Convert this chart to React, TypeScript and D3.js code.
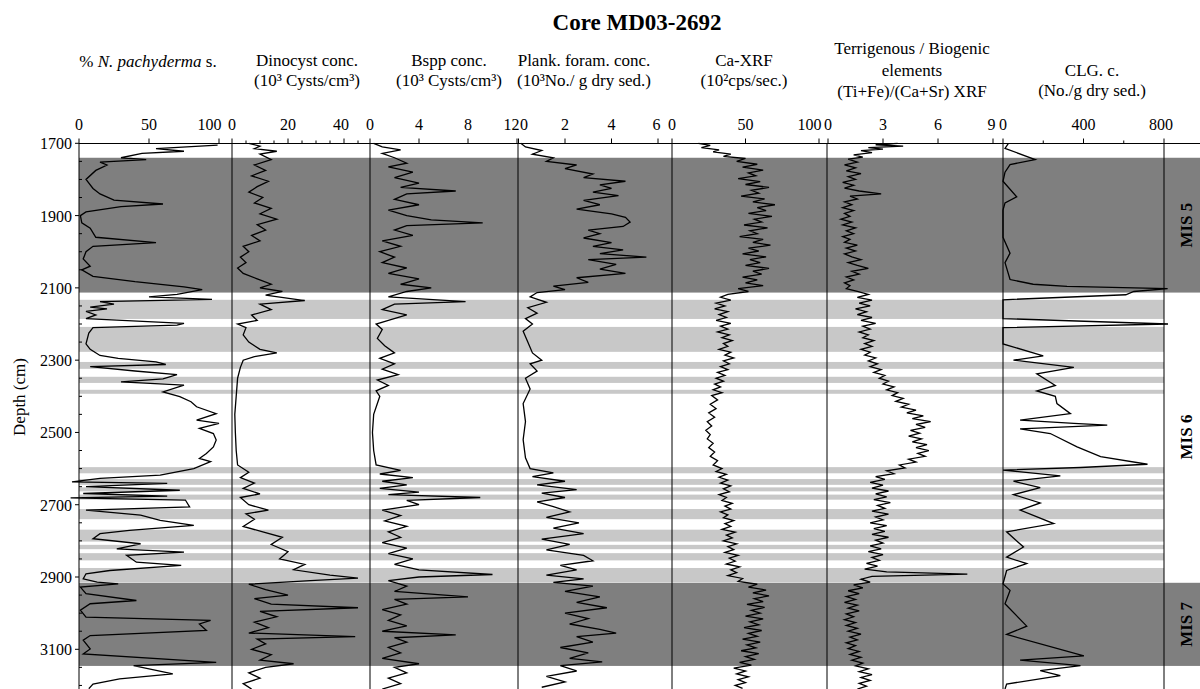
import React, { useEffect, useRef } from "react";
import * as d3 from "d3";

// depth (cm), value
const pachyderma: [number, number][] = [
  [1705, 99], [1715, 55], [1722, 75], [1728, 45], [1740, 30], [1745, 48], [1752, 15], [1760, 20],
  [1775, 12], [1800, 5], [1825, 10], [1840, 15], [1857, 25], [1868, 60], [1875, 30], [1890, 5],
  [1900, 1], [1920, 2], [1935, 8], [1960, 12], [1975, 55], [1985, 10], [2000, 5], [2020, 3],
  [2040, 8], [2050, 2], [2068, 10], [2083, 40], [2097, 75], [2105, 88], [2118, 70], [2125, 50],
  [2132, 95], [2138, 15], [2145, 25], [2153, 8], [2158, 20], [2165, 5], [2175, 12], [2185, 5],
  [2198, 75], [2203, 70], [2210, 10], [2225, 7], [2255, 5], [2270, 8], [2287, 15], [2295, 28],
  [2305, 55], [2312, 62], [2318, 8], [2330, 40], [2340, 70], [2352, 60], [2360, 30], [2369, 75],
  [2388, 60], [2401, 72], [2415, 80], [2429, 84], [2448, 98], [2466, 84], [2475, 100], [2489, 86],
  [2503, 96], [2521, 98], [2540, 96], [2558, 91], [2572, 86], [2581, 94], [2600, 82], [2618, 58],
  [2627, 15], [2637, -5], [2641, 63], [2650, 5], [2660, 72], [2669, 3], [2676, 63], [2681, -6],
  [2687, 76], [2706, 79], [2715, 5], [2729, 44], [2743, 58], [2757, 82], [2771, 36], [2780, 15],
  [2794, 10], [2808, 44], [2822, 27], [2831, 75], [2840, 34], [2859, 41], [2868, 73], [2882, 22],
  [2891, 5], [2905, 3], [2914, 13], [2919, 28], [2928, 1], [2946, 5], [2965, 41], [2974, 8],
  [2992, 1], [3011, 5], [3020, 94], [3030, 86], [3048, 91], [3062, 8], [3075, 3], [3099, 8],
  [3113, 3], [3136, 98], [3145, 39], [3168, 67], [3182, 29], [3196, 10], [3209, 7],
];

const dinocyst: [number, number][] = [
  [1700, 6], [1708, 10], [1715, 8], [1722, 16], [1730, 10], [1745, 14], [1760, 8], [1775, 12],
  [1790, 7], [1805, 13], [1820, 9], [1835, 6], [1850, 11], [1865, 8], [1880, 14], [1895, 10],
  [1910, 16], [1925, 9], [1940, 12], [1955, 7], [1970, 10], [1985, 4], [2000, 6], [2015, 3],
  [2030, 5], [2045, 2], [2060, 4], [2075, 9], [2090, 14], [2100, 10], [2110, 18], [2120, 12],
  [2135, 26], [2145, 10], [2160, 14], [2175, 7], [2190, 9], [2200, 2], [2210, 5], [2230, 4],
  [2250, 6], [2270, 10], [2280, 16], [2290, 8], [2300, 4], [2320, 3], [2350, 2], [2400, 1.5],
  [2450, 1], [2500, 1.2], [2550, 1.5], [2590, 2], [2610, 6], [2625, 3], [2640, 8], [2655, 4],
  [2670, 10], [2680, 3], [2700, 6], [2715, 13], [2725, 5], [2740, 8], [2760, 4], [2775, 11],
  [2790, 18], [2810, 14], [2830, 20], [2850, 17], [2865, 26], [2880, 22], [2895, 35], [2903, 45],
  [2910, 28], [2920, 6], [2935, 12], [2950, 20], [2960, 8], [2975, 14], [2985, 45], [2995, 10],
  [3010, 16], [3025, 8], [3040, 13], [3055, 6], [3065, 44], [3072, 9], [3085, 12], [3100, 7],
  [3115, 14], [3130, 10], [3140, 22], [3150, 12], [3165, 6], [3180, 10], [3195, 4], [3210, 7],
];

const bspp: [number, number][] = [
  [1700, 0.3], [1710, 1], [1718, 2.5], [1728, 1], [1740, 2], [1755, 3], [1765, 1.5], [1780, 3.5],
  [1795, 2], [1810, 4], [1822, 2.5], [1832, 7], [1840, 3], [1855, 2], [1870, 4], [1885, 1.5],
  [1900, 3], [1912, 5], [1920, 9.2], [1928, 3], [1940, 2], [1955, 3.5], [1970, 1], [1985, 2.5],
  [2000, 0.8], [2015, 2], [2030, 1], [2045, 3], [2060, 1.5], [2075, 4], [2090, 2.5], [2100, 5],
  [2110, 3], [2125, 1.5], [2138, 7.8], [2145, 2], [2160, 1], [2175, 3], [2190, 1.5], [2200, 0.5],
  [2215, 1], [2240, 0.6], [2260, 1.2], [2280, 2], [2295, 0.8], [2310, 2], [2325, 1], [2340, 2.3],
  [2355, 0.6], [2370, 1.5], [2385, 0.5], [2400, 0.8], [2450, 0.3], [2500, 0.2], [2550, 0.3],
  [2590, 0.5], [2605, 2.5], [2615, 0.8], [2625, 3.5], [2635, 1], [2645, 3], [2655, 0.8],
  [2665, 4], [2672, 1.5], [2680, 9], [2688, 3], [2700, 4], [2715, 1], [2730, 2.5], [2745, 1.2],
  [2760, 3], [2775, 1.5], [2790, 2.5], [2805, 1], [2820, 3], [2835, 1.5], [2850, 3.5], [2865, 2],
  [2880, 4], [2893, 10], [2900, 4], [2910, 1.5], [2925, 3], [2940, 2], [2955, 8], [2962, 2],
  [2975, 3], [2990, 1], [3005, 2.5], [3020, 1.5], [3035, 3], [3050, 1], [3060, 7], [3068, 2],
  [3080, 3], [3095, 1.5], [3110, 2.5], [3125, 1], [3140, 4], [3150, 2], [3165, 3], [3180, 1.5],
  [3195, 2.5], [3210, 1],
];

const plankForam: [number, number][] = [
  [1700, 0.1], [1710, 0.3], [1720, 1], [1730, 0.6], [1740, 1.5], [1750, 1.2], [1760, 2.5],
  [1770, 2], [1785, 3.2], [1795, 2.8], [1805, 4.6], [1815, 3.5], [1825, 4], [1835, 3.2],
  [1845, 4.3], [1858, 2.8], [1870, 3.5], [1882, 2.5], [1895, 4], [1905, 4.6], [1918, 4.8],
  [1930, 4.5], [1940, 3], [1950, 3.5], [1962, 2.8], [1975, 4], [1985, 3.2], [1995, 4.5],
  [2005, 3.5], [2015, 5.5], [2022, 3], [2035, 4.2], [2048, 3.5], [2060, 4.6], [2072, 2.5],
  [2085, 3], [2095, 1.5], [2105, 2], [2113, 0.8], [2125, 0.5], [2140, 1.2], [2155, 0.4],
  [2170, 0.8], [2185, 0.3], [2200, 0.6], [2220, 0.2], [2250, 0.4], [2280, 0.6], [2300, 1],
  [2310, 0.5], [2330, 0.8], [2350, 0.3], [2380, 0.5], [2420, 0.2], [2470, 0.3], [2520, 0.2],
  [2570, 0.3], [2600, 0.5], [2612, 1.5], [2622, 0.6], [2635, 2], [2645, 0.8], [2658, 2.5],
  [2668, 1], [2680, 2], [2692, 0.8], [2705, 1.5], [2720, 2.2], [2735, 1.2], [2750, 2.6],
  [2765, 1.5], [2780, 2.8], [2795, 1], [2810, 2.2], [2825, 1.2], [2840, 2.8], [2855, 3.2],
  [2868, 1.8], [2880, 2.5], [2895, 1.2], [2905, 2.8], [2915, 1.5], [2925, 3.2], [2940, 2],
  [2955, 3.5], [2970, 2.5], [2985, 3.8], [3000, 2], [3015, 3], [3030, 2.2], [3045, 3.5],
  [3055, 4.2], [3065, 2.5], [3080, 3.2], [3095, 1.8], [3110, 3], [3125, 2.2], [3135, 3.6],
  [3145, 1.8], [3160, 2.5], [3175, 1.2], [3190, 2], [3205, 1],
];

const caXrf: [number, number][] = [
  [1700, 18], [1706, 26], [1712, 20], [1718, 32], [1724, 28], [1730, 40], [1736, 35], [1742, 50],
  [1750, 44], [1758, 58], [1766, 48], [1774, 62], [1782, 52], [1790, 57], [1798, 45], [1806, 60],
  [1814, 50], [1822, 66], [1830, 54], [1838, 59], [1846, 47], [1854, 63], [1862, 55], [1870, 70],
  [1878, 58], [1886, 64], [1894, 52], [1902, 68], [1910, 56], [1918, 61], [1926, 49], [1934, 65],
  [1942, 53], [1950, 58], [1958, 46], [1966, 62], [1974, 55], [1982, 67], [1990, 52], [1998, 59],
  [2006, 48], [2014, 64], [2022, 53], [2030, 60], [2038, 50], [2046, 66], [2054, 55], [2062, 61],
  [2070, 48], [2078, 58], [2086, 50], [2094, 62], [2102, 45], [2110, 52], [2118, 38], [2126, 33],
  [2134, 40], [2142, 30], [2150, 36], [2158, 29], [2166, 38], [2174, 32], [2182, 37], [2190, 30],
  [2198, 40], [2206, 33], [2214, 38], [2222, 31], [2230, 39], [2238, 34], [2246, 41], [2254, 35],
  [2262, 38], [2270, 32], [2278, 40], [2286, 36], [2294, 42], [2302, 35], [2310, 39], [2318, 33],
  [2326, 38], [2334, 31], [2342, 36], [2350, 30], [2358, 35], [2366, 29], [2374, 33], [2382, 28],
  [2390, 34], [2398, 27], [2410, 31], [2422, 26], [2434, 30], [2446, 25], [2458, 29], [2470, 24],
  [2482, 27], [2494, 23], [2506, 26], [2518, 24], [2530, 28], [2542, 25], [2554, 29], [2566, 26],
  [2578, 31], [2590, 28], [2600, 34], [2608, 30], [2616, 37], [2624, 32], [2632, 38], [2640, 33],
  [2648, 40], [2656, 35], [2664, 39], [2672, 32], [2680, 37], [2688, 34], [2696, 41], [2704, 36],
  [2712, 40], [2720, 33], [2728, 38], [2736, 35], [2744, 42], [2752, 36], [2760, 40], [2768, 34],
  [2776, 43], [2784, 37], [2792, 41], [2800, 35], [2808, 44], [2816, 38], [2824, 42], [2832, 36],
  [2840, 45], [2848, 39], [2856, 43], [2864, 37], [2872, 46], [2880, 40], [2888, 44], [2896, 38],
  [2904, 48], [2912, 45], [2920, 58], [2928, 52], [2936, 64], [2944, 55], [2952, 66], [2960, 56],
  [2968, 62], [2976, 51], [2984, 63], [2992, 54], [3000, 60], [3008, 50], [3016, 62], [3024, 53],
  [3032, 59], [3040, 49], [3048, 61], [3056, 52], [3064, 58], [3072, 48], [3080, 60], [3088, 51],
  [3096, 57], [3104, 47], [3112, 59], [3120, 50], [3128, 56], [3136, 46], [3144, 54], [3152, 42],
  [3160, 50], [3168, 44], [3176, 52], [3184, 45], [3192, 50], [3200, 43], [3208, 48],
];

const terrRatio: [number, number][] = [
  [1700, 3.8], [1704, 2.6], [1708, 4.1], [1712, 2.2], [1716, 3.0], [1720, 1.8], [1726, 2.4],
  [1732, 1.4], [1738, 1.9], [1744, 1.1], [1752, 1.6], [1760, 0.9], [1768, 1.5], [1776, 1.0],
  [1784, 1.8], [1792, 1.1], [1800, 1.5], [1808, 0.8], [1816, 1.4], [1824, 0.9], [1832, 1.7],
  [1840, 2.9], [1846, 1.2], [1854, 1.6], [1862, 0.9], [1870, 1.3], [1878, 0.8], [1886, 1.4],
  [1894, 0.9], [1902, 1.2], [1910, 0.7], [1918, 1.3], [1926, 0.8], [1934, 1.5], [1942, 1.0],
  [1950, 1.4], [1958, 0.8], [1966, 1.2], [1974, 0.9], [1982, 1.6], [1990, 1.0], [1998, 1.5],
  [2006, 0.9], [2014, 1.3], [2022, 1.8], [2030, 1.1], [2038, 1.6], [2046, 2.2], [2054, 1.3],
  [2062, 1.7], [2070, 1.0], [2078, 1.4], [2086, 0.9], [2094, 1.2], [2102, 1.0], [2110, 1.6],
  [2118, 2.2], [2126, 1.6], [2134, 2.4], [2142, 1.7], [2150, 2.3], [2158, 1.5], [2166, 2.1],
  [2174, 1.6], [2182, 2.4], [2190, 1.8], [2198, 2.6], [2206, 1.9], [2214, 2.3], [2222, 1.7],
  [2230, 2.2], [2238, 1.9], [2246, 2.5], [2254, 2.0], [2262, 2.4], [2270, 1.8], [2278, 2.3],
  [2286, 2.0], [2294, 2.6], [2302, 2.2], [2310, 2.7], [2318, 2.3], [2326, 2.9], [2334, 2.5],
  [2342, 3.1], [2350, 2.8], [2358, 3.3], [2366, 3.0], [2374, 3.6], [2382, 3.2], [2390, 3.8],
  [2398, 3.5], [2406, 4.1], [2414, 3.7], [2422, 4.4], [2430, 4.0], [2438, 4.8], [2446, 4.3],
  [2454, 5.2], [2462, 4.6], [2470, 5.6], [2478, 4.8], [2486, 5.3], [2494, 4.5], [2502, 5.0],
  [2510, 4.4], [2518, 5.1], [2526, 4.6], [2534, 5.4], [2542, 4.8], [2550, 5.5], [2558, 4.9],
  [2566, 5.3], [2574, 4.4], [2582, 4.8], [2590, 3.9], [2598, 4.2], [2606, 3.2], [2614, 3.6],
  [2622, 2.6], [2630, 3.1], [2638, 2.3], [2646, 3.0], [2654, 2.4], [2662, 3.3], [2670, 2.6],
  [2678, 3.2], [2686, 2.5], [2694, 3.4], [2702, 2.7], [2710, 3.1], [2718, 2.4], [2726, 3.3],
  [2734, 2.6], [2742, 3.0], [2750, 2.3], [2758, 3.2], [2766, 2.5], [2774, 3.1], [2782, 2.4],
  [2790, 3.3], [2798, 2.6], [2806, 3.0], [2814, 2.3], [2822, 2.9], [2830, 2.2], [2838, 3.0],
  [2846, 2.4], [2854, 2.8], [2862, 2.1], [2870, 2.7], [2878, 2.0], [2886, 3.2], [2892, 7.6],
  [2898, 2.4], [2906, 1.8], [2914, 2.3], [2922, 1.4], [2930, 1.9], [2938, 1.1], [2946, 1.7],
  [2954, 1.0], [2962, 1.5], [2970, 0.9], [2978, 1.6], [2986, 1.1], [2994, 1.7], [3002, 1.0],
  [3010, 1.4], [3018, 0.9], [3026, 1.5], [3034, 1.0], [3042, 1.6], [3050, 1.1], [3058, 1.8],
  [3066, 1.2], [3074, 1.6], [3082, 1.0], [3090, 1.5], [3098, 1.1], [3106, 1.7], [3114, 1.2],
  [3122, 1.8], [3130, 1.3], [3138, 1.9], [3146, 1.5], [3154, 2.2], [3162, 1.7], [3170, 2.4],
  [3178, 1.8], [3186, 2.3], [3194, 1.7], [3202, 2.1], [3210, 1.6],
];

const clg: [number, number][] = [
  [1700, 27], [1714, 10], [1745, 160], [1759, 35], [1780, 10], [1805, 0], [1848, 68], [1865, 10],
  [1885, 0], [1960, 0], [2004, 35], [2030, 10], [2077, 35], [2090, 150], [2096, 318], [2102, 818],
  [2110, 650], [2119, 610], [2133, 0], [2185, 0], [2200, 820], [2210, 0], [2255, 0], [2288, 200],
  [2300, 52], [2320, 352], [2338, 168], [2370, 260], [2385, 168], [2400, 260], [2420, 268],
  [2448, 335], [2466, 85], [2475, 352], [2480, 518], [2490, 85], [2503, 235], [2540, 368],
  [2567, 485], [2588, 718], [2597, 385], [2604, 0], [2620, 285], [2635, 52], [2653, 185],
  [2672, 52], [2695, 185], [2715, 85], [2752, 252], [2775, 18], [2817, 102], [2845, 18],
  [2863, 118], [2882, 18], [2919, 0], [2937, 35], [2974, 10], [3036, 118], [3059, 18],
  [3118, 402], [3130, 85], [3145, 385], [3159, 185], [3173, 285], [3196, 18], [3210, 10],
];

// marine isotope stages and grey bands (depth cm)
const misStages = [
  { label: "MIS 5", top: 1740, bottom: 2113, shaded: true },
  { label: "MIS 6", top: 2113, bottom: 2916, shaded: false },
  { label: "MIS 7", top: 2916, bottom: 3146, shaded: true },
];
const lightBands: [number, number][] = [
  [2133, 2186], [2208, 2277], [2305, 2324], [2346, 2363], [2382, 2393], [2596, 2613],
  [2629, 2645], [2652, 2663], [2672, 2686], [2712, 2740], [2769, 2802], [2811, 2823],
  [2834, 2854], [2875, 2915],
];

const depthTicks = [1700, 1900, 2100, 2300, 2500, 2700, 2900, 3100];
const depthMinor = [
  1750, 1800, 1850, 1950, 2000, 2050, 2150, 2200, 2250, 2350, 2400, 2450, 2550, 2600, 2650,
  2750, 2800, 2850, 2950, 3000, 3050, 3150, 3200,
];

const pachyTicks = [0, 50, 100];
const dinoTicks = [0, 20, 40];
const dinoMinor = [5, 10, 15, 25, 30, 35, 45];
const bsppTicks = [0, 4, 8, 12];
const plankTicks = [0, 2, 4, 6];
const caTicks = [0, 50, 100];
const terrTicks = [0, 3, 6, 9];
const clgTicks = [0, 400, 800];
const clgMinor = [200, 600];

type Seg = { t: string; i?: boolean };

export default function App() {
  const ref = useRef<SVGSVGElement>(null);

  useEffect(() => {
    draw();
  }, []);

  let draw = () => {
    const svg = d3.select(ref.current);
    svg.selectAll("*").remove();

    const font = "'Liberation Serif', 'Times New Roman', serif";
    const W = 1200;
    const H = 689;
    const axisY = 143.5;
    const plotLeft = 79;
    const plotRight = 1164;

    const y = d3.scaleLinear().domain([1700, 3100]).range([143.3, 649.3]);

    // firstStart: "0" label starts at the border instead of being centred on it
    const panels = [
      { data: pachyderma, domain: [0, 100], range: [79, 219], left: 79, ticks: pachyTicks, minor: [] as number[], endLast: true, firstStart: false },
      { data: dinocyst, domain: [0, 40], range: [232, 344], left: 232, ticks: dinoTicks, minor: dinoMinor, endLast: false, firstStart: false },
      { data: bspp, domain: [0, 12], range: [370, 517], left: 370, ticks: bsppTicks, minor: [], endLast: true, firstStart: false },
      { data: plankForam, domain: [0, 6], range: [518.5, 658], left: 518, ticks: plankTicks, minor: [], endLast: true, firstStart: true },
      { data: caXrf, domain: [0, 100], range: [672, 819], left: 672, ticks: caTicks, minor: [], endLast: true, firstStart: false },
      { data: terrRatio, domain: [0, 9], range: [828, 993], left: 827, ticks: terrTicks, minor: [], endLast: true, firstStart: false },
      { data: clg, domain: [0, 800], range: [1003, 1164], left: 1003, ticks: clgTicks, minor: clgMinor, endLast: false, firstStart: false },
    ];

    // shading
    misStages
      .filter((m) => m.shaded)
      .forEach((m) => {
        svg
          .append("rect")
          .attr("x", plotLeft)
          .attr("y", y(m.top))
          .attr("width", W - plotLeft)
          .attr("height", y(m.bottom) - y(m.top))
          .attr("fill", "#7f7f7f");
      });

    svg
      .selectAll("rect.band")
      .data(lightBands)
      .enter()
      .append("rect")
      .attr("class", "band")
      .attr("x", plotLeft)
      .attr("y", (d) => y(d[0]))
      .attr("width", plotRight - plotLeft)
      .attr("height", (d) => y(d[1]) - y(d[0]))
      .attr("fill", "#c8c8c8");

    // top axis line + panel borders
    svg
      .append("line")
      .attr("x1", plotLeft)
      .attr("x2", W)
      .attr("y1", axisY)
      .attr("y2", axisY)
      .attr("stroke", "#000")
      .attr("stroke-width", 1);

    const borders = panels.map((p) => p.left).concat([plotRight]);
    svg
      .selectAll("line.border")
      .data(borders)
      .enter()
      .append("line")
      .attr("x1", (d) => d)
      .attr("x2", (d) => d)
      .attr("y1", axisY)
      .attr("y2", H)
      .attr("stroke", "#000")
      .attr("stroke-width", 1);

    // series + ticks
    panels.forEach((p) => {
      const x = d3.scaleLinear().domain(p.domain).range(p.range);

      const line = d3
        .line<[number, number]>()
        .x((d) => x(d[1]))
        .y((d) => y(d[0]));

      svg
        .append("path")
        .attr("d", line(p.data))
        .attr("fill", "none")
        .attr("stroke", "#000")
        .attr("stroke-width", 1.3)
        .attr("stroke-linejoin", "miter");

      p.ticks.forEach((t, i) => {
        svg
          .append("line")
          .attr("x1", x(t))
          .attr("x2", x(t))
          .attr("y1", axisY)
          .attr("y2", axisY - 5)
          .attr("stroke", "#000");
        const last = i === p.ticks.length - 1;
        let anchor = "middle";
        let tx = x(t);
        if (last && p.endLast) {
          anchor = "end";
          tx = x(t) + 2.5;
        } else if (last) {
          tx = x(t) - 3;
        } else if (i === 0 && p.firstStart) {
          anchor = "start";
          tx = x(t) + 1.5;
        }
        svg
          .append("text")
          .attr("x", tx)
          .attr("y", 130)
          .attr("text-anchor", anchor)
          .attr("font-family", font)
          .attr("font-size", 16)
          .text(String(t));
      });

      p.minor.forEach((t) => {
        svg
          .append("line")
          .attr("x1", x(t))
          .attr("x2", x(t))
          .attr("y1", axisY)
          .attr("y2", axisY - 3)
          .attr("stroke", "#000");
      });
    });

    // depth axis
    depthTicks.forEach((d) => {
      svg
        .append("line")
        .attr("x1", plotLeft - 4)
        .attr("x2", plotLeft)
        .attr("y1", y(d))
        .attr("y2", y(d))
        .attr("stroke", "#000");
      svg
        .append("text")
        .attr("x", 72)
        .attr("y", y(d) + 6)
        .attr("text-anchor", "end")
        .attr("font-family", font)
        .attr("font-size", 16)
        .text(String(d));
    });
    depthMinor.forEach((d) => {
      svg
        .append("line")
        .attr("x1", plotLeft)
        .attr("x2", plotLeft + 3)
        .attr("y1", y(d))
        .attr("y2", y(d))
        .attr("stroke", "#000");
    });

    svg
      .append("text")
      .attr("transform", "translate(25, 397) rotate(-90)")
      .attr("text-anchor", "middle")
      .attr("font-family", font)
      .attr("font-size", 17)
      .text("Depth (cm)");

    // title
    svg
      .append("text")
      .attr("x", 637)
      .attr("y", 30)
      .attr("text-anchor", "middle")
      .attr("font-family", font)
      .attr("font-size", 23)
      .attr("font-weight", "bold")
      .text("Core MD03-2692");

    // column headers
    const headers: { x: number; lines: Seg[][]; ys: number[] }[] = [
      { x: 148, lines: [[{ t: "% " }, { t: "N. pachyderma", i: true }, { t: " s." }]], ys: [67] },
      { x: 307, lines: [[{ t: "Dinocyst conc." }], [{ t: "(10³ Cysts/cm³)" }]], ys: [66, 86] },
      { x: 449, lines: [[{ t: "Bspp conc." }], [{ t: "(10³ Cysts/cm³)" }]], ys: [66, 86] },
      { x: 584, lines: [[{ t: "Plank. foram. conc." }], [{ t: "(10³No./ g dry sed.)" }]], ys: [66, 86] },
      { x: 744, lines: [[{ t: "Ca-XRF" }], [{ t: "(10²cps/sec.)" }]], ys: [66, 86] },
      {
        x: 912,
        lines: [[{ t: "Terrigenous / Biogenic" }], [{ t: "elements" }], [{ t: "(Ti+Fe)/(Ca+Sr) XRF" }]],
        ys: [54, 76, 97],
      },
      { x: 1092, lines: [[{ t: "CLG. c." }], [{ t: "(No./g dry sed.)" }]], ys: [76, 96] },
    ];

    headers.forEach((h) => {
      h.lines.forEach((segs, li) => {
        const txt = svg
          .append("text")
          .attr("x", h.x)
          .attr("y", h.ys[li])
          .attr("text-anchor", "middle")
          .attr("font-family", font)
          .attr("font-size", 17);
        segs.forEach((s) => {
          txt
            .append("tspan")
            .attr("font-style", s.i ? "italic" : "normal")
            .text(s.t);
        });
      });
    });

    // MIS labels
    misStages.forEach((m) => {
      const cy = m.label === "MIS 6" ? 437 : (y(m.top) + y(m.bottom)) / 2;
      svg
        .append("text")
        .attr("transform", `translate(1186, ${cy}) rotate(-90)`)
        .attr("text-anchor", "middle")
        .attr("dominant-baseline", "central")
        .attr("font-family", font)
        .attr("font-size", 17)
        .attr("font-weight", "bold")
        .text(m.label);
    });
  };

  return (
    <svg
      ref={ref}
      width={1200}
      height={689}
      style={{ position: "absolute", left: 0, top: 0, background: "#fff" }}
    />
  );
}
